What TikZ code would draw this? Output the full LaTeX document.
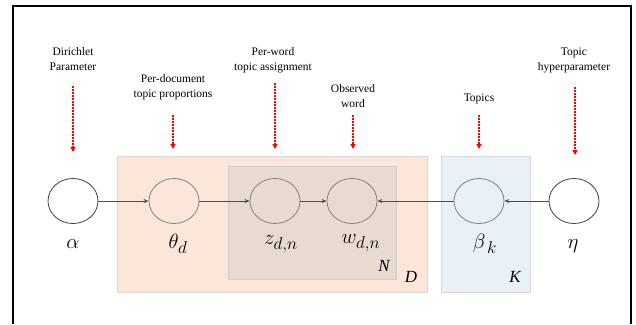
\documentclass[tikz,border=0pt]{standalone}
\usepackage{fontspec}
\setmainfont{Liberation Serif}
\usetikzlibrary{arrows.meta,shapes.geometric}
\DeclareMathSizes{21}{21}{17}{13}
\definecolor{plateD}{HTML}{FCE6D9}
\definecolor{plateN}{HTML}{E8DAD0}
\definecolor{plateK}{HTML}{E8F0F8}
\tikzset{
	var/.style={ellipse,draw=black!75,line width=0.8pt,minimum width=50pt,minimum height=45pt,inner sep=0pt},
	inplate/.style={var,draw=black!50},
	edge/.style={black!70,line width=0.8pt,-{Stealth[length=5pt,width=4pt]}},
	hint/.style={red,dashed,dash pattern=on 2pt off 1pt,line width=1.3pt,-{Triangle[length=5pt,width=5pt]}},
	caption/.style={align=center,font=\rmfamily\fontsize{11.5}{15}\selectfont},
	sym/.style={font=\fontsize{21}{24}\selectfont},
	platename/.style={font=\fontsize{17}{20}\selectfont\itshape}
}
\begin{document}
\begin{tikzpicture}[x=1pt,y=-1pt]
\useasboundingbox (0,0) rectangle (636,324);
\fill[white] (0,0) rectangle (636,324);
\draw[line width=2.2pt] (13,324) -- (13,6) -- (631,6) -- (631,324);
% plates
\draw[draw=black!15,line width=1pt,fill=plateD] (117,156) rectangle (427,292);
\draw[draw=black!20,line width=1pt,fill=plateN] (228,166) rectangle (396,279);
\draw[draw=black!15,line width=1pt,fill=plateK] (441,156) rectangle (530,292);
\node[platename] (N) at (384,266) {N};
\node[platename] (D) at (411,277) {D};
\node[platename] (K) at (515,277) {K};
% variables
\node[var,fill=white] (alpha) at (73,201) {};
\node[inplate] (theta) at (174,201) {};
\node[inplate] (z) at (275,201) {};
\node[inplate] (w) at (352,201) {};
\node[inplate] (beta) at (479,201) {};
\node[var,fill=white] (eta) at (574,201) {};
\node[sym] (lalpha) at (73,244) {$\alpha$};
\node[sym] (ltheta) at (178,244) {$\theta_d$};
\node[sym] (lz) at (281,244) {$z_{d,n}$};
\node[sym] (lw) at (361,243) {$w_{d,n}$};
\node[sym] (lbeta) at (485,244) {$\beta_{\,k}$};
\node[sym] (leta) at (573,246) {$\eta$};
\draw[edge] (alpha) -- (theta);
\draw[edge] (theta) -- (z);
\draw[edge] (z) -- (w);
\draw[edge] (eta) -- (beta);
\draw[edge] (beta) -- (w);
% captions
\node[caption] (tDir) at (73,59.5) {Dirichlet\\Parameter};
\node[caption] (tDoc) at (173,87.5) {Per-document\\topic proportions};
\node[caption] (tWord) at (273,60.5) {Per-word\\topic assignment};
\node[caption] (tObs) at (353,96.5) {Observed\\word};
\node[caption] (tTop) at (479,99) {Topics};
\node[caption] (tHyp) at (574,60.5) {Topic\\hyperparameter};
\foreach \n/\x/\ya/\yb in {Dir/73/86/152,Doc/173/115/149,Word/275/83/149,Obs/353/115/149,Top/479/115/149,Hyp/575/87/155}
{
	\coordinate (s\n) at (\x,\ya);
	\coordinate (e\n) at (\x,\yb);
	\draw[hint] (s\n) -- (e\n);
}
\end{tikzpicture}
\end{document}
